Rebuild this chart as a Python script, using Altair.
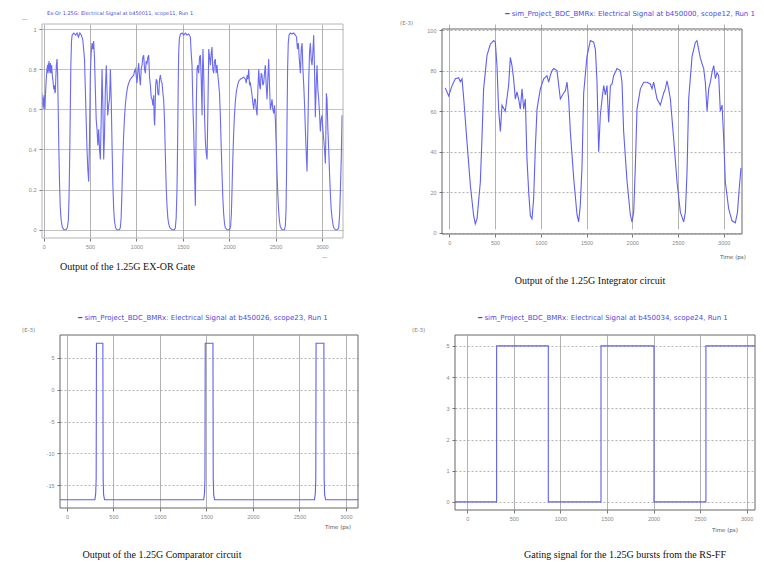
import altair as alt
import pandas as pd

# ---------------- data ----------------
X_TICKS = [0, 500, 1000, 1500, 2000, 2500, 3000]

# Panel 1: EX-OR gate output (normalised amplitude vs time, ps)
XOR_T = [-18, -14, -10, -7, -3, 0, 4, 7, 11, 14, 18, 22, 29, 36, 43, 47, 50, 54, 58, 61, 65, 69, 72, 79, 83, 86, 90, 95, 101, 108, 115, 122, 126, 131, 137, 144,
         150, 156, 163, 170, 178, 188, 200, 216, 240, 255, 266, 273, 280, 287, 293, 300, 307, 325, 345, 360, 375, 390, 405, 420,
         431, 440, 449, 458, 467, 476, 485, 494, 503, 512, 521, 530, 539, 548, 557, 566, 575, 584, 593, 602, 611, 620, 629, 638, 647, 656, 665, 675, 682, 690, 701, 711, 719,
         728, 737, 746, 755, 764, 775, 790, 815, 826, 835, 843, 852, 861, 870, 880, 891, 904, 916, 934, 952, 970,
         979, 988, 997, 1006, 1015, 1024, 1033, 1042, 1051, 1060, 1069, 1078, 1087, 1096, 1105, 1114, 1123, 1132, 1141, 1150, 1159, 1168, 1177, 1186, 1191, 1196, 1201, 1207, 1214, 1222, 1231, 1240, 1249, 1258, 1267, 1276, 1285, 1293,
         1302, 1311, 1320, 1329, 1338, 1347, 1360, 1383, 1410, 1419, 1428, 1437, 1444, 1450, 1455, 1462, 1473, 1491, 1509, 1527, 1545, 1563, 1581,
         1590, 1599, 1608, 1617, 1626, 1635, 1640, 1646, 1653, 1660, 1670, 1680, 1689, 1698, 1707, 1712, 1717, 1726, 1735, 1743, 1752, 1761, 1770, 1779, 1788, 1797, 1806, 1814, 1823, 1832, 1841, 1850, 1859, 1868, 1877, 1886, 1895, 1904,
         1913, 1922, 1931, 1940, 1949, 1958, 1976, 2005, 2015, 2023, 2030, 2037, 2046, 2055, 2066, 2077, 2090, 2102, 2120, 2138, 2156, 2174,
         2183, 2192, 2201, 2210, 2219, 2228, 2237, 2246, 2255, 2264, 2273, 2282, 2291, 2300, 2309, 2318, 2327, 2335, 2344, 2353, 2362, 2371, 2380, 2389, 2398, 2407, 2416, 2425, 2434, 2443, 2452, 2461, 2470, 2479, 2488, 2497,
         2506, 2515, 2524, 2533, 2542, 2551, 2570, 2595, 2605, 2612, 2618, 2623, 2629, 2636, 2645, 2659, 2677, 2695, 2713, 2725,
         2735, 2745, 2755, 2767, 2776, 2785, 2794, 2803, 2812, 2821, 2830, 2838, 2847, 2856, 2865, 2874, 2883, 2892, 2901, 2910, 2919, 2928, 2937, 2946, 2955, 2964, 2973, 2982, 2991, 3000, 3009, 3018, 3027, 3036, 3042, 3047, 3054, 3063, 3072,
         3081, 3090, 3099, 3108, 3117, 3126, 3144, 3165, 3180, 3190, 3198, 3207, 3216]
XOR_V = [.68, .62, .66, .60, .65, .62, .67, .61, .64, .60, .66, .70, .76, .80, .82, .78, .83, .80, .84, .79, .82, .78, .83, .80, .78, .82, .79, .76, .74, .70, .72, .68, .69, .76, .82, .85,
         .78, .62, .42, .25, .12, .05, .015, 0, 0, .01, .05, .15, .35, .60, .82, .94, .97, .98, .97, .98, .96, .98, .97, .95,
         .90, .85, .70, .55, .40, .30, .24, .45, .78, .88, .93, .90, .94, .85, .70, .55, .50, .42, .50, .40, .35, .55, .80, .62, .35, .48, .70, .82, .70, .57, .62, .66, .80,
         .65, .42, .22, .10, .04, .01, 0, 0, .01, .06, .18, .34, .46, .55, .62, .67, .71, .73, .75, .76, .77,
         .79, .80, .77, .73, .79, .83, .76, .72, .80, .82, .86, .87, .80, .78, .84, .83, .86, .87, .76, .72, .66, .65, .62, .67, .55, .52, .60, .72, .75, .74, .68, .67, .75, .77, .74, .73, .68, .65,
         .55, .38, .22, .12, .06, .03, .01, 0, 0, .01, .06, .20, .45, .72, .88, .95, .975, .98, .97, .98, .97, .975, .96,
         .88, .82, .62, .49, .30, .12, .35, .65, .80, .82, .78, .86, .87, .75, .57, .80, .90, .75, .55, .44, .38, .35, .60, .90, .86, .82, .88, .91, .80, .78, .84, .85, .78, .82, .77, .73, .68, .57,
         .42, .28, .16, .08, .03, .01, 0, 0, .02, .08, .20, .33, .46, .56, .64, .69, .72, .74, .75, .755, .76, .75,
         .73, .77, .75, .80, .72, .73, .70, .67, .63, .60, .65, .65, .60, .57, .70, .80, .72, .70, .78, .77, .72, .73, .78, .82, .72, .65, .75, .85, .72, .60, .62, .65, .60, .58, .62, .55,
         .42, .28, .17, .09, .04, .015, 0, 0, .02, .10, .30, .55, .80, .93, .97, .98, .975, .98, .97, .96,
         .90, .93, .85, .78, .90, .93, .80, .72, .62, .49, .38, .29, .50, .73, .88, .93, .85, .82, .88, .97, .80, .56, .72, .82, .70, .65, .58, .49, .55, .57, .50, .45, .40, .33, .50, .68, .65, .50, .40,
         .28, .18, .10, .06, .03, .01, 0, 0, .01, .08, .20, .35, .57]
XOR_Y_TICKS = [0, 0.2, 0.4, 0.6, 0.8, 1.0]

# Panel 2: integrator output (E-3)
INT_T = [-44, -7, 29, 66, 102, 120, 139, 157, 193, 230, 266, 284, 303, 339, 357, 375, 412, 448, 485, 503, 521, 539, 558, 576, 612, 649, 667, 685, 703, 722, 740, 758, 776, 795, 813, 831, 849, 868, 886, 904, 922, 940, 959, 995,
         1032, 1068, 1086, 1104, 1123, 1141, 1177, 1214, 1250, 1268, 1287, 1305, 1323, 1360, 1396, 1414, 1432, 1451, 1469, 1505, 1542, 1578, 1597, 1615, 1633, 1651, 1670, 1688, 1706, 1724, 1742, 1761, 1779, 1797, 1833, 1870, 1888, 1906, 1943, 1979, 1997,
         2016, 2034, 2052, 2089, 2125, 2161, 2198, 2216, 2234, 2271, 2307, 2344, 2362, 2380, 2398, 2417, 2453, 2490, 2526, 2562, 2581, 2599, 2617, 2654, 2690, 2708, 2745, 2781, 2799, 2818, 2836, 2854, 2872, 2891, 2909, 2927, 2945, 2963, 2982,
         3000, 3018, 3054, 3091, 3127, 3150, 3170, 3189]
INT_V = [71.5, 67.5, 72.5, 76, 76.5, 74.5, 76, 66.5, 45, 23.5, 8.5, 4.5, 7, 25, 46.5, 71, 87.5, 93, 94.8, 94, 82.5, 61, 50, 63, 60, 73, 86.5, 82.5, 76, 66, 69.5, 66, 61, 71, 61, 66, 36.5, 20, 8.5, 7, 17, 41.5, 61, 71,
         76, 77.5, 74.3, 77.5, 80, 81, 80, 66, 69, 70, 74.3, 66, 50, 27, 9, 5.5, 13.6, 33, 69, 87, 94.8, 94, 90.5, 74.3, 40, 58, 66, 72.6, 68, 72.6, 54.6, 72.6, 73.4, 77.5, 81, 80, 74.3, 50, 25.5, 9, 5.5,
         10.3, 33, 61, 71, 74.3, 74.3, 73.4, 71, 74.3, 66, 63, 69, 71, 75, 71, 66, 46.4, 25, 10.3, 5.5, 10.3, 30, 66, 87, 93.9, 94.8, 86, 81, 74.3, 60, 71, 74.3, 79, 82.5, 76, 79, 77.5, 60, 63,
         46.4, 25, 12, 6, 5, 10, 22, 32]
INT_Y_TICKS = [0, 20, 40, 60, 80, 100]

# Panel 3: comparator output (E-3)
CMP_T = [-75, 300, 309, 314, 317, 386, 389, 394, 404,
         1470, 1479, 1484, 1487, 1570, 1573, 1578, 1588,
         2662, 2671, 2676, 2679, 2763, 2766, 2771, 2781, 3130]
CMP_V = [-17.3, -17.3, -16.3, -14, 7.3, 7.3, -14, -16.5, -17.3,
         -17.3, -16.3, -14, 7.3, 7.3, -14, -16.5, -17.3,
         -17.3, -16.3, -14, 7.3, 7.3, -14, -16.5, -17.3, -17.3]
CMP_Y_TICKS = [-15, -10, -5, 0, 5]

# Panel 4: gating signal from the RS-FF (E-3)
GATE_T = [-132, 315, 870, 1436, 2005, 2563, 3090]
GATE_V = [0, 5, 0, 5, 0, 5, 5]
GATE_Y_TICKS = [0, 1, 2, 3, 4, 5]

SCOPE_LABELS = [
    "Ex-Or 1.25G: Electrical Signal at b450011, scope11, Run 1",
    "━ sim_Project_BDC_BMRx: Electrical Signal at b450000, scope12, Run 1",
    "━ sim_Project_BDC_BMRx: Electrical Signal at b450026, scope23, Run 1",
    "━ sim_Project_BDC_BMRx: Electrical Signal at b450034, scope24, Run 1",
]
CAPTIONS = [
    "Output of the 1.25G EX-OR Gate",
    "Output of the 1.25G Integrator circuit",
    "Output of the 1.25G Comparator circuit",
    "Gating signal for the 1.25G bursts from the RS-FF",
]
UNIT_LABEL = "(E-3)"
TIME_LABEL = "Time (ps)"

LINE_BLUE = "#5f5ff0"
TEXT_BLUE = "#4a4ae0"
SERIF = "Liberation Serif"


def label(txt, x, y, size, color, font="DejaVu Sans", align="left"):
    return alt.Chart(pd.DataFrame({"s": [txt]})).mark_text(
        align=align, baseline="middle", fontSize=size, color=color, font=font
    ).encode(x=alt.value(x), y=alt.value(y), text="s:N")


def panel(t, v, xdom, ydom, yticks, w, h, frame, ydash, texts, ox=0, oy=0,
          interp="linear", color=LINE_BLUE):
    df = pd.DataFrame({"t": t, "v": v, "i": list(range(len(t)))})
    xs = alt.Scale(domain=xdom, nice=False, zero=False, range=[ox, ox + w])
    ys = alt.Scale(domain=ydom, nice=False, zero=False, range=[oy + h, oy])
    line = alt.Chart(df).mark_line(color=color, strokeWidth=1.1, clip=True, interpolate=interp).encode(
        x=alt.X("t:Q", scale=xs,
                axis=alt.Axis(values=X_TICKS, tickCount=30, title=None, grid=True, gridColor="#a0a0a0",
                              gridWidth=0.8, labelFontSize=5.5, labelColor="#888", tickColor="#777",
                              tickSize=3, domain=False, labelPadding=3, labelExpr="datum.value + ''",
                              labelOverlap=False)),
        y=alt.Y("v:Q", scale=ys,
                axis=alt.Axis(values=yticks, tickCount=30, title=None, grid=True, gridColor="#a0a0a0",
                              gridWidth=0.8, gridDash=ydash, labelFontSize=5.5, labelColor="#888",
                              tickColor="#777", tickSize=3, domain=False, labelPadding=3, offset=-ox,
                              labelExpr="datum.value + ''", labelOverlap=False, labelBound=False)),
        order=alt.Order("i:Q"),
    )
    fr = alt.Chart(pd.DataFrame({"a": [0]})).mark_rect(
        fill="transparent", stroke=frame, strokeWidth=1
    ).encode(
        x=alt.datum(xdom[0]), x2=alt.datum(xdom[1]),
        y=alt.datum(ydom[0]), y2=alt.datum(ydom[1]),
    )
    layers = [line, fr] + [label(tx[0], tx[1] + ox, tx[2] + oy, *tx[3:]) for tx in texts]
    return alt.layer(*layers).properties(
        width=ox + w, height=oy + h, view=alt.ViewBackground(strokeOpacity=0)
    )


p1 = panel(XOR_T, XOR_V, [-18, 3226], [-0.041, 1.025], XOR_Y_TICKS, 301, 214, "#b5b5b5", [1, 0], [
    (SCOPE_LABELS[0], 5, -11, 5, TEXT_BLUE),
    ("—", 280, 233, 5.5, "#777"),
    ("—", -20, -5, 5.5, "#777"),
    (CAPTIONS[0], 18, 243, 10, "#111", SERIF),
], color="#6a6af2")

p2 = panel(INT_T, INT_V, [-80, 3200], [-0.5, 100.5], INT_Y_TICKS, 300, 205, "#666666", [2, 2], [
    (SCOPE_LABELS[1], 313, -15, 7, TEXT_BLUE, "DejaVu Sans", "right"),
    (UNIT_LABEL, -42, -6, 5.5, "#777"),
    (TIME_LABEL, 278, 228, 5.5, "#555"),
    (CAPTIONS[1], 148, 252, 10, "#111", SERIF, "center"),
], oy=5)

p3 = panel(CMP_T, CMP_V, [-75, 3130], [-18.6, 8.6], CMP_Y_TICKS, 298, 173, "#666666", [2, 2], [
    (SCOPE_LABELS[2], 18, -17, 7, TEXT_BLUE),
    (UNIT_LABEL, -38, -5, 5.5, "#777"),
    (TIME_LABEL, 265, 192, 5.5, "#555"),
    (CAPTIONS[2], 102, 220, 10, "#111", SERIF, "center"),
], ox=18)

p4 = panel(GATE_T, GATE_V, [-132, 3090], [-0.26, 5.35], GATE_Y_TICKS, 300, 175, "#666666", [2, 2], [
    (SCOPE_LABELS[3], 23, -17, 7, TEXT_BLUE),
    (UNIT_LABEL, -43, -5, 5.5, "#777"),
    (TIME_LABEL, 257, 195, 5.5, "#555"),
    (CAPTIONS[3], 170, 220, 10, "#111", SERIF, "center"),
], ox=13, interp="step-after")

chart = alt.concat(p1, p2, p3, p4, columns=2, spacing={"row": 97, "column": 84}, bounds="flush").properties(
    padding={"left": 14, "top": 2, "right": 0, "bottom": 0},
    background="white",
)

chart.save("out.html", embed_options={"renderer": "svg", "actions": False})
